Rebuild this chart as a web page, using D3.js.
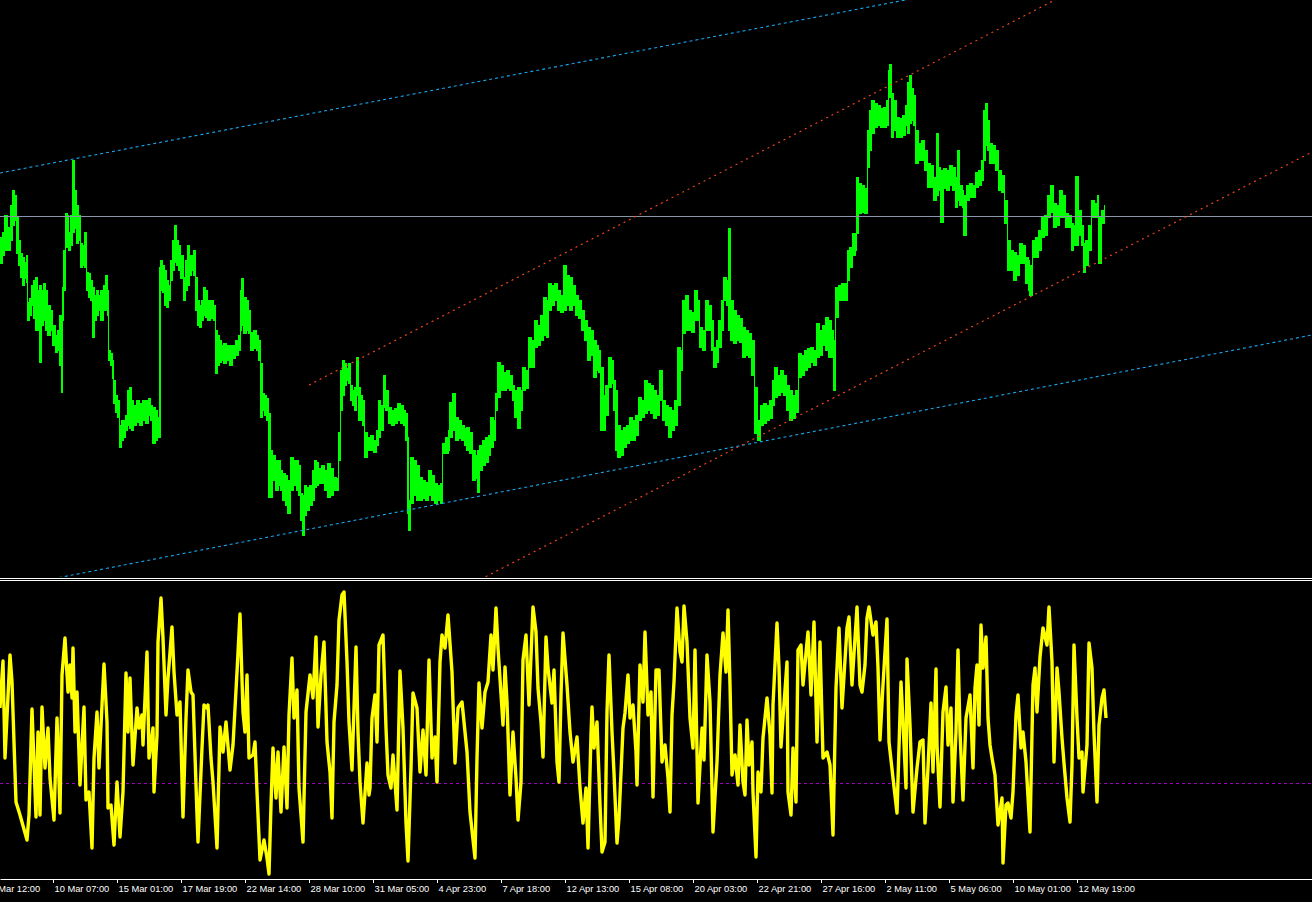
<!DOCTYPE html>
<html><head><meta charset="utf-8">
<script src="https://cdn.jsdelivr.net/npm/d3@7"></script>
<style>html,body{margin:0;padding:0;background:#000;overflow:hidden}</style>
</head><body><svg id="c" width="1312" height="902"></svg>
<script>
// ---- price bars (bar index, high, low) ----
const priceBars = [
0,2,4,7,10,12,14,16,18,20, 22,24,26,27,29,31,33,35,37,39, 41,43,45,47,50,52,55,57,59,61,
62,63,65,67,68,70,72,74,76,78, 80,82,84,86,88,90,92,94,96,98, 100,103,105,107,108,110,112,113,115,117,
119,121,123,125,127,129,131,133,136,139, 142,145,148,150,152,155,157,159,160,162, 164,166,168,170,172,174,176,178,180,183,
185,187,189,191,193,195,197,199,201,203, 205,207,210,213,215,217,219,221,223,226, 229,232,235,238,240,241,243,246,248,250,
253,256,258,260,262,264,266,268,270,272, 275,278,280,282,285,287,290,293,296,298, 300,302,304,306,309,312,314,316,318,321,
324,327,330,333,336,338,340,342,344,346, 348,350,352,354,356,358,360,362,364,367, 370,373,376,378,380,383,385,388,391,394,
397,400,403,405,407,408,410,413,416,419, 422,425,428,431,434,437,440,442,445,448, 449,452,455,458,461,464,466,469,472,475,
477,479,482,485,488,490,493,495,497,500, 503,506,509,512,514,517,520,522,525,528, 531,534,537,540,543,546,548,551,554,557,
560,563,566,569,572,575,578,581,584,587, 590,593,596,598,600,603,605,608,611,613, 615,617,620,623,626,629,632,635,638,641,
644,647,650,653,656,659,662,665,668,671, 674,677,680,682,685,688,691,694,697,699, 702,705,708,711,713,716,718,721,723,726,
728,730,733,736,739,742,745,748,751,754, 757,760,763,766,769,772,774,777,780,783, 786,789,792,795,798,801,804,807,810,813,
816,819,822,825,828,831,833,835,838,841, 844,847,849,852,855,856,858,861,864,867, 869,871,874,877,880,883,886,888,889,891,
893,896,899,902,905,907,909,911,913,915, 918,921,924,927,930,933,936,938,940,943, 946,949,952,955,957,959,962,963,966,969,
972,975,978,981,983,985,987,989,992,995, 998,1001,1004,1007,1010,1013,1016,1019,1022,1025, 1028,1029,1032,1035,1038,1041,1044,1047,1050,1053,
1056,1059,1062,1065,1068,1071,1073,1075,1078,1081, 1083,1085,1088,1091,1094,1097,1098,1101,1104];
const priceHigh = [
1.0763,1.0768,1.0785,1.0773,1.0795,1.0810,1.0805,1.0783,1.0760,1.0747, 1.0743,1.0738,1.0745,1.0698,1.0702,1.0715,1.0720,1.0723,1.0710,1.0715, 1.0710,1.0717,1.0710,1.0695,1.0690,1.0675,1.0665,1.0670,1.0685,1.0675,
1.0713,1.0750,1.0787,1.0785,1.0768,1.0785,1.0840,1.0810,1.0795,1.0785, 1.0757,1.0755,1.0768,1.0728,1.0727,1.0720,1.0713,1.0705,1.0710,1.0705, 1.0710,1.0715,1.0725,1.0710,1.0650,1.0647,1.0640,1.0620,1.0605,1.0600,
1.0575,1.0580,1.0580,1.0585,1.0610,1.0613,1.0600,1.0595,1.0600,1.0597, 1.0600,1.0600,1.0602,1.0595,1.0593,1.0590,1.0583,1.0733,1.0740,1.0735, 1.0730,1.0720,1.0715,1.0740,1.0760,1.0775,1.0760,1.0755,1.0745,1.0723,
1.0740,1.0755,1.0745,1.0745,1.0750,1.0723,1.0700,1.0695,1.0700,1.0713, 1.0710,1.0700,1.0700,1.0695,1.0670,1.0665,1.0660,1.0655,1.0657,1.0655, 1.0655,1.0655,1.0660,1.0665,1.0710,1.0722,1.0703,1.0700,1.0690,1.0668,
1.0670,1.0665,1.0660,1.0637,1.0607,1.0605,1.0602,1.0587,1.0550,1.0545, 1.0540,1.0540,1.0530,1.0527,1.0525,1.0520,1.0543,1.0540,1.0540,1.0535, 1.0507,1.0505,1.0515,1.0513,1.0515,1.0530,1.0540,1.0538,1.0532,1.0535,
1.0530,1.0537,1.0532,1.0523,1.0522,1.0568,1.0630,1.0640,1.0637,1.0632, 1.0637,1.0615,1.0610,1.0613,1.0643,1.0613,1.0605,1.0600,1.0568,1.0563, 1.0565,1.0560,1.0570,1.0600,1.0595,1.0625,1.0610,1.0593,1.0590,1.0592,
1.0597,1.0595,1.0590,1.0587,1.0563,1.0500,1.0543,1.0540,1.0535,1.0523, 1.0520,1.0518,1.0530,1.0525,1.0517,1.0515,1.0517,1.0557,1.0563,1.0570, 1.0598,1.0607,1.0583,1.0580,1.0575,1.0572,1.0573,1.0568,1.0550,1.0545,
1.0550,1.0555,1.0560,1.0563,1.0565,1.0583,1.0580,1.0607,1.0638,1.0635, 1.0628,1.0630,1.0625,1.0615,1.0610,1.0613,1.0610,1.0633,1.0630,1.0663, 1.0660,1.0680,1.0675,1.0685,1.0703,1.0700,1.0717,1.0715,1.0717,1.0710,
1.0705,1.0735,1.0725,1.0723,1.0715,1.0705,1.0700,1.0690,1.0680,1.0673, 1.0670,1.0660,1.0655,1.0650,1.0633,1.0605,1.0615,1.0643,1.0640,1.0620, 1.0610,1.0575,1.0570,1.0573,1.0575,1.0583,1.0580,1.0585,1.0603,1.0600,
1.0620,1.0617,1.0615,1.0610,1.0605,1.0630,1.0600,1.0595,1.0593,1.0590, 1.0600,1.0653,1.0650,1.0700,1.0705,1.0690,1.0688,1.0710,1.0700,1.0673, 1.0670,1.0700,1.0695,1.0680,1.0653,1.0660,1.0680,1.0700,1.0723,1.0720,
1.0772,1.0700,1.0690,1.0685,1.0682,1.0673,1.0670,1.0667,1.0660,1.0613, 1.0580,1.0595,1.0597,1.0595,1.0600,1.0620,1.0633,1.0625,1.0630,1.0625, 1.0615,1.0610,1.0605,1.0610,1.0647,1.0645,1.0650,1.0652,1.0653,1.0650,
1.0677,1.0670,1.0675,1.0683,1.0680,1.0670,1.0660,1.0713,1.0715,1.0717, 1.0717,1.0750,1.0753,1.0767,1.0767,1.0823,1.0817,1.0815,1.0812,1.0870, 1.0890,1.0900,1.0897,1.0895,1.0892,1.0893,1.0900,1.0930,1.0936,1.0907,
1.0900,1.0883,1.0882,1.0885,1.0895,1.0918,1.0925,1.0912,1.0905,1.0870, 1.0857,1.0860,1.0850,1.0837,1.0835,1.0823,1.0867,1.0833,1.0830,1.0832, 1.0830,1.0835,1.0833,1.0823,1.0850,1.0815,1.0810,1.0805,1.0815,1.0817,
1.0815,1.0828,1.0830,1.0840,1.0890,1.0897,1.0880,1.0857,1.0855,1.0850, 1.0830,1.0825,1.0800,1.0760,1.0750,1.0748,1.0745,1.0757,1.0755,1.0743, 1.0740,1.0735,1.0760,1.0763,1.0770,1.0783,1.0785,1.0805,1.0815,1.0797,
1.0795,1.0810,1.0805,1.0787,1.0785,1.0777,1.0775,1.0824,1.0790,1.0775, 1.0757,1.0760,1.0775,1.0800,1.0797,1.0805,1.0783,1.0790,1.0795];
const priceLow = [
1.0737,1.0745,1.0750,1.0750,1.0760,1.0775,1.0780,1.0747,1.0735,1.0723, 1.0715,1.0722,1.0718,1.0680,1.0685,1.0695,1.0682,1.0670,1.0670,1.0638, 1.0675,1.0680,1.0670,1.0665,1.0670,1.0655,1.0648,1.0650,1.0635,1.0608,
1.0680,1.0710,1.0753,1.0755,1.0750,1.0755,1.0768,1.0772,1.0757,1.0760, 1.0733,1.0735,1.0733,1.0710,1.0703,1.0700,1.0663,1.0680,1.0685,1.0690, 1.0680,1.0690,1.0690,1.0685,1.0640,1.0635,1.0622,1.0597,1.0588,1.0583,
1.0553,1.0560,1.0563,1.0570,1.0575,1.0572,1.0570,1.0575,1.0578,1.0575, 1.0580,1.0577,1.0585,1.0580,1.0557,1.0560,1.0563,1.0563,1.0710,1.0708, 1.0695,1.0693,1.0700,1.0720,1.0730,1.0738,1.0735,1.0730,1.0722,1.0700,
1.0710,1.0715,1.0725,1.0730,1.0725,1.0690,1.0675,1.0673,1.0680,1.0685, 1.0683,1.0680,1.0682,1.0680,1.0627,1.0635,1.0638,1.0640,1.0637,1.0640, 1.0635,1.0642,1.0645,1.0650,1.0670,1.0675,1.0667,1.0670,1.0667,1.0650,
1.0652,1.0650,1.0640,1.0583,1.0590,1.0585,1.0580,1.0503,1.0503,1.0520, 1.0510,1.0515,1.0510,1.0500,1.0495,1.0487,1.0510,1.0515,1.0510,1.0505, 1.0480,1.0465,1.0485,1.0490,1.0495,1.0500,1.0513,1.0515,1.0517,1.0517,
1.0510,1.0503,1.0505,1.0510,1.0510,1.0540,1.0590,1.0605,1.0615,1.0620, 1.0617,1.0600,1.0595,1.0590,1.0605,1.0580,1.0580,1.0575,1.0543,1.0550, 1.0550,1.0548,1.0555,1.0563,1.0570,1.0593,1.0590,1.0577,1.0575,1.0577,
1.0580,1.0577,1.0575,1.0560,1.0487,1.0470,1.0497,1.0505,1.0500,1.0500, 1.0502,1.0500,1.0505,1.0500,1.0497,1.0500,1.0497,1.0547,1.0547,1.0550, 1.0563,1.0570,1.0560,1.0562,1.0560,1.0555,1.0550,1.0547,1.0520,1.0522,
1.0508,1.0530,1.0535,1.0538,1.0545,1.0553,1.0560,1.0590,1.0603,1.0610, 1.0610,1.0612,1.0610,1.0600,1.0583,1.0572,1.0590,1.0610,1.0612,1.0633, 1.0633,1.0653,1.0655,1.0660,1.0665,1.0663,1.0690,1.0695,1.0700,1.0690,
1.0688,1.0690,1.0695,1.0690,1.0695,1.0685,1.0682,1.0670,1.0660,1.0640, 1.0645,1.0623,1.0630,1.0628,1.0570,1.0570,1.0585,1.0613,1.0617,1.0590, 1.0550,1.0543,1.0545,1.0553,1.0557,1.0560,1.0560,1.0565,1.0580,1.0583,
1.0587,1.0590,1.0587,1.0582,1.0585,1.0600,1.0580,1.0575,1.0563,1.0570, 1.0575,1.0595,1.0630,1.0667,1.0670,1.0670,1.0668,1.0680,1.0680,1.0653, 1.0650,1.0670,1.0670,1.0650,1.0633,1.0638,1.0653,1.0670,1.0700,1.0695,
1.0670,1.0660,1.0657,1.0660,1.0658,1.0643,1.0645,1.0643,1.0625,1.0567, 1.0560,1.0575,1.0577,1.0580,1.0582,1.0595,1.0603,1.0605,1.0608,1.0605, 1.0590,1.0580,1.0582,1.0588,1.0623,1.0625,1.0630,1.0633,1.0638,1.0635,
1.0643,1.0645,1.0655,1.0650,1.0643,1.0643,1.0610,1.0683,1.0700,1.0700, 1.0700,1.0720,1.0733,1.0745,1.0750,1.0767,1.0787,1.0788,1.0787,1.0833, 1.0850,1.0867,1.0873,1.0875,1.0873,1.0873,1.0875,1.0903,1.0903,1.0863,
1.0870,1.0863,1.0863,1.0865,1.0875,1.0867,1.0877,1.0880,1.0875,1.0837, 1.0840,1.0840,1.0830,1.0813,1.0813,1.0800,1.0805,1.0810,1.0778,1.0812, 1.0810,1.0815,1.0810,1.0793,1.0800,1.0795,1.0793,1.0765,1.0800,1.0803,
1.0803,1.0813,1.0815,1.0820,1.0840,1.0855,1.0850,1.0837,1.0837,1.0830, 1.0810,1.0808,1.0777,1.0730,1.0730,1.0720,1.0725,1.0737,1.0737,1.0717, 1.0710,1.0705,1.0743,1.0743,1.0750,1.0763,1.0765,1.0783,1.0788,1.0773,
1.0775,1.0783,1.0783,1.0773,1.0773,1.0750,1.0755,1.0755,1.0765,1.0755, 1.0728,1.0735,1.0750,1.0783,1.0783,1.0785,1.0737,1.0777,1.0780];

// ---- oscillator (bar index, value) ----
const oscBars = [
0,3,5,10,12,16,20,27,29,32, 36,38,40,42,45,48,50,54,57,60, 62,65,68,70,72,73,75,77,80,84,
86,89,92,94,97,99,102,104,107,108, 111,114,117,120,123,126,128,130,133,137, 139,142,143,147,149,153,154,157,158,161,
163,166,168,172,174,177,180,183,186,188, 191,193,197,198,202,204,207,208,211,213, 217,220,223,226,230,233,237,240,243,245,
247,249,253,255,257,260,264,267,269,271, 273,276,278,281,284,287,289,292,294,297, 299,303,306,310,313,316,318,321,324,327,
330,332,334,337,339,342,344,347,349,352, 356,358,360,363,367,369,370,372,375,377, 379,383,386,388,391,393,397,400,403,406,
408,411,413,417,420,423,426,429,432,435, 437,440,442,445,448,452,455,458,462,467, 470,475,477,479,482,485,488,491,493,496,
498,503,505,507,510,513,516,518,521,523, 526,529,533,536,538,541,543,546,548,552, 554,557,559,561,563,567,570,573,577,580,
583,586,588,591,592,594,597,600,602,605, 607,609,612,614,617,619,623,625,628,630, 633,636,637,640,643,645,648,651,653,656,
659,662,665,668,670,672,674,677,680,682, 684,687,690,693,695,698,702,704,707,710, 713,717,720,723,726,728,730,732,735,738,
740,743,745,747,749,752,753,756,758,761, 763,767,770,772,773,777,779,781,783,787, 788,791,793,796,798,801,803,806,808,811,
814,817,820,823,827,830,833,836,839,842, 847,849,852,857,860,862,865,867,869,873, 876,878,880,883,887,889,893,897,901,903,
906,907,910,913,917,920,923,925,928,931, 933,936,937,940,943,946,948,951,953,956, 958,960,963,966,970,973,975,977,979,981,
983,986,988,990,992,995,998,1002,1003,1006, 1008,1011,1013,1016,1018,1021,1023,1026,1030,1033, 1035,1037,1040,1043,1047,1049,1052,1054,1057,1059,
1062,1064,1067,1070,1072,1074,1077,1079,1082,1083, 1087,1089,1092,1094,1097,1099,1102,1104,1106];
const oscValues = [
0.75,1.22,0.25,1.28,1.01,-0.19,-0.32,-0.57,-0.32,0.74, -0.34,0.51,-0.32,0.76,0.15,0.55,0.05,-0.37,0.65,-0.30, 1.08,1.45,0.91,1.18,0.85,1.35,0.51,0.91,-0.02,0.76,
-0.17,-0.09,-0.65,0.25,0.71,0.15,0.78,1.19,0.61,-0.25, -0.22,-0.62,0.01,-0.54,-0.09,1.10,0.51,1.05,0.18,0.75, 0.55,0.68,0.38,1.31,0.25,0.55,-0.09,0.48,1.41,1.85,
1.45,0.68,1.05,1.56,1.11,0.68,0.81,-0.34,0.65,1.13, 0.91,0.88,-0.32,-0.59,0.35,0.78,0.75,0.78,0.25,0.01, -0.65,0.56,0.31,0.61,0.13,0.38,1.11,1.69,0.71,0.51,
1.08,0.25,0.28,0.41,-0.09,-0.77,-0.57,-0.75,-0.91,-0.22, 0.35,-0.15,0.31,-0.29,0.36,-0.25,0.68,1.25,0.65,0.93, -0.05,-0.59,0.71,1.08,0.85,1.46,0.56,1.08,1.41,0.41,
0.11,-0.35,0.61,0.98,1.63,1.88,1.91,1.21,0.61,0.13, 1.36,0.51,0.01,-0.40,0.20,-0.12,-0.05,0.65,0.88,0.41, 1.38,1.48,0.55,0.08,-0.05,0.28,-0.27,1.12,0.55,-0.40,
-0.78,0.15,0.90,0.75,0.11,0.53,0.08,1.23,0.25,0.46, 0.01,1.21,1.48,1.35,1.68,1.11,0.20,0.75,0.81,0.31, -0.29,-0.75,0.25,1.00,0.55,0.91,1.01,1.48,1.13,1.75,
1.35,0.58,1.16,0.81,-0.12,0.51,0.05,-0.37,0.01,1.23, 1.48,0.78,1.76,1.51,0.95,0.61,0.26,1.46,1.15,0.80, 1.13,0.21,0.01,0.88,1.50,0.98,0.51,0.21,0.46,-0.05,
-0.40,-0.05,-0.65,0.48,0.76,0.35,0.61,-0.22,-0.69,-0.59, 0.71,1.28,0.51,0.10,-0.60,-0.35,0.55,0.70,1.08,0.65, 0.78,0.31,-0.02,1.18,0.81,1.51,0.68,0.91,-0.14,1.13,
1.13,0.21,0.38,0.05,-0.29,0.68,1.01,1.75,1.31,1.21, 1.77,1.41,0.65,0.35,1.33,-0.20,0.55,0.23,1.28,0.81, -0.49,0.21,1.08,1.50,1.11,1.73,0.98,0.08,0.28,-0.02,
0.58,0.01,-0.12,0.63,0.18,0.41,-0.09,-0.74,0.11,-0.09, 0.45,0.85,0.48,-0.10,0.78,1.60,1.15,0.36,0.65,1.21, -0.09,-0.32,0.35,-0.19,1.33,1.38,0.98,1.30,1.51,0.88,
1.61,0.41,1.41,0.25,0.31,0.18,-0.52,0.95,1.55,0.75, 1.55,1.66,0.98,1.76,0.98,0.91,1.18,1.65,1.76,1.48, 1.61,1.15,0.43,0.98,1.64,0.41,0.05,-0.30,1.01,0.61,
-0.05,1.24,0.58,-0.29,0.15,0.41,0.43,-0.40,0.15,0.80, 0.11,1.14,0.38,-0.24,0.71,0.96,0.38,0.75,-0.19,0.51, 1.33,0.51,-0.17,0.65,0.88,0.15,0.95,1.18,0.58,1.58,
1.15,1.46,0.65,0.38,0.25,0.08,-0.42,-0.15,-0.80,-0.22, -0.20,-0.35,-0.09,0.68,0.88,0.35,0.51,0.21,-0.49,0.98, 1.15,0.71,1.26,1.55,1.38,1.76,1.21,0.21,1.15,0.91,
0.45,0.20,-0.15,-0.39,0.18,1.38,0.65,0.25,0.31,-0.09, 0.38,1.40,1.15,0.50,-0.19,0.58,0.85,0.93,0.65];
const oscLevel = 0;

// ---- objects on the price chart ----
const hLinePrice = 1.0784;
// trend lines: start bar, two anchor points (bar, price)
const trendStart  = [0, 0, 309, 0];
const trendBar1   = [0, 62, 309, 485];
const trendPrice1 = [1.0827, 1.0423, 1.0615, 1.0423];
const trendBar2   = [895, 1312, 1055, 1312];
const trendPrice2 = [1.0998, 1.0665, 1.1000, 1.0848];
const trendKind   = ["channel", "channel", "trend", "trend"];

// ---- time axis ----
const tickBars = [-11,53,117,181,245,309,373,437,501,565,629,693,757,821,885,949,1013,1077];
const tickLabels = ["5 Mar 12:00","10 Mar 07:00","15 Mar 01:00","17 Mar 19:00","22 Mar 14:00","28 Mar 10:00",
 "31 Mar 05:00","4 Apr 23:00","7 Apr 18:00","12 Apr 13:00","15 Apr 08:00","20 Apr 03:00","22 Apr 21:00",
 "27 Apr 16:00","2 May 11:00","5 May 06:00","10 May 01:00","12 May 19:00"];

// ================= drawing =================
const W = 1312, H = 902;
const svg = d3.select("#c");
svg.append("rect").attr("width", W).attr("height", H).attr("fill", "#000");

const x = d3.scaleLinear().domain([0, 1312]).range([0, 1312]);
const yP = d3.scaleLinear().domain([1.0423, 1.1000]).range([577, 0]);
const yO = d3.scaleLinear().domain([-0.95, 1.98]).range([878, 585]);

const defs = svg.append("defs");
defs.append("clipPath").attr("id", "cm").append("rect").attr("x", 0).attr("y", 0).attr("width", W).attr("height", 577);
defs.append("clipPath").attr("id", "co").append("rect").attr("x", 0).attr("y", 581).attr("width", W).attr("height", 297);

const main = svg.append("g").attr("clip-path", "url(#cm)");
const pd = priceBars.map((b, i) => ({ b, h: priceHigh[i], l: priceLow[i] }));
// bar-like band: stepped high/low envelope
main.append("path").datum(pd)
  .attr("d", d3.area().curve(d3.curveStepAfter).x(d => x(d.b)).y0(d => yP(d.l)).y1(d => yP(d.h)))
  .attr("fill", "#00ff00").attr("stroke", "#00ff00").attr("stroke-width", 1)
  .attr("shape-rendering", "crispEdges");
// individual bar ranges
main.append("g").selectAll("line").data(pd).join("line")
  .attr("x1", d => x(d.b) + 0.5).attr("x2", d => x(d.b) + 0.5)
  .attr("y1", d => yP(d.h)).attr("y2", d => yP(d.l))
  .attr("stroke", "#00ff00").attr("stroke-width", 1);

// horizontal line
main.append("line").attr("x1", 0).attr("x2", W)
  .attr("y1", Math.round(yP(hLinePrice)) + 0.5).attr("y2", Math.round(yP(hLinePrice)) + 0.5)
  .attr("stroke", "#8a96a8").attr("stroke-width", 1);

// trend lines
trendStart.forEach((s, i) => {
  const slope = (trendPrice2[i] - trendPrice1[i]) / (trendBar2[i] - trendBar1[i]);
  const pAt = b => trendPrice1[i] + slope * (b - trendBar1[i]);
  const e = 1312;
  const isCh = trendKind[i] === "channel";
  main.append("line")
    .attr("x1", x(s)).attr("y1", yP(pAt(s)))
    .attr("x2", x(e)).attr("y2", yP(pAt(e)))
    .attr("stroke", isCh ? "#18a6ee" : "#ff4a1a")
    .attr("stroke-width", 1.1)
    .attr("stroke-dasharray", isCh ? "3,3" : "2,4");
});

// separators
[578.5, 580.5].forEach(yy => svg.append("line").attr("x1", 0).attr("x2", W)
  .attr("y1", yy).attr("y2", yy).attr("stroke", "#fff").attr("stroke-width", 1));

// oscillator
const osc = svg.append("g").attr("clip-path", "url(#co)");
osc.append("line").attr("x1", 0).attr("x2", W)
  .attr("y1", Math.round(yO(oscLevel)) + 0.5).attr("y2", Math.round(yO(oscLevel)) + 0.5)
  .attr("stroke", "#a000c0").attr("stroke-width", 1).attr("stroke-dasharray", "3,3");
const od = oscBars.map((b, i) => ({ b, v: oscValues[i] }));
osc.append("path").datum(od)
  .attr("d", d3.line().x(d => x(d.b)).y(d => yO(d.v)))
  .attr("fill", "none").attr("stroke", "#ffff00").attr("stroke-width", 3.4)
  .attr("stroke-linejoin", "round");

// time axis
const ax = d3.axisBottom(x).tickValues(tickBars).tickFormat((d, i) => tickLabels[i])
  .tickSize(4).tickSizeOuter(0);
const g = svg.append("g").attr("transform", "translate(0,879)").call(ax);
g.select(".domain").attr("stroke", "#fff");
g.selectAll(".tick line").attr("stroke", "#fff");
g.selectAll(".tick text")
  .attr("fill", "#fff").attr("text-anchor", "start").attr("x", 1).attr("y", 13).attr("dy", null)
  .style("font-family", "'Liberation Sans', Arial, sans-serif").style("font-size", "9.3px");
</script>
</body></html>
